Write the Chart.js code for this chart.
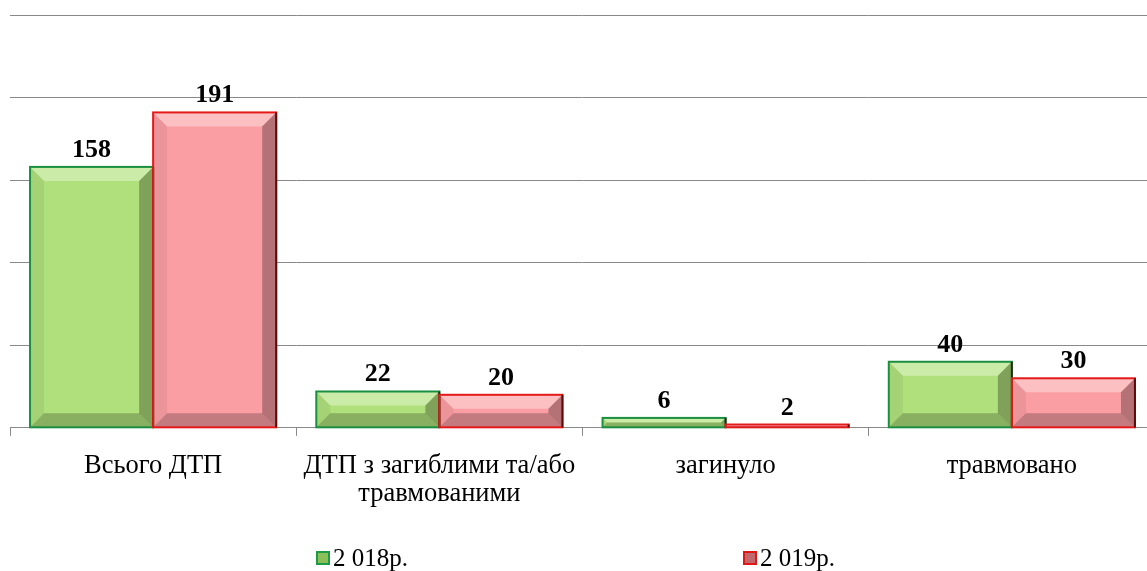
<!DOCTYPE html>
<html>
<head>
<meta charset="utf-8">
<script src="https://cdn.jsdelivr.net/npm/chart.js@4"></script>
<style>
  body { margin: 0; overflow: hidden; background: #fff; }
  #wrap { position: relative; width: 1147px; height: 571px; overflow: hidden; }
  #legend { position: absolute; top: 544px; left: 0; width: 1147px; height: 28px; font: 25px 'Liberation Serif', 'Times New Roman', serif; color: #000; }
  .item { position: absolute; top: 0; white-space: nowrap; }
  .box { display: inline-block; width: 14px; height: 14px; margin-right: 3px; vertical-align: 1px; box-sizing: border-box; }
</style>
</head>
<body>
<div id="wrap">
  <canvas id="chart" width="1155" height="571"></canvas>
  <div id="legend">
    <span class="item" style="left:316px"><span class="box" style="background:#8bbf5a;border:2px solid #1f9a45"></span>2 018р.</span>
    <span class="item" style="left:743px"><span class="box" style="background:#c2676c;border:2px solid #e01818"></span>2 019р.</span>
  </div>
</div>
<script>
var categories = ['Всього ДТП', ['ДТП з загиблими та/або', 'травмованими'], 'загинуло', 'травмовано'];
var seriesNames = ['2 018р.', '2 019р.'];
var values2018 = [158, 22, 6, 40];
var values2019 = [191, 20, 2, 30];

// bevel + value labels, drawn on top of the library's bar elements
var bevelPlugin = {
  id: 'bevel',
  afterDatasetsDraw: function(chart) {
    var ctx = chart.ctx;
    chart.data.datasets.forEach(function(ds, i) {
      var meta = chart.getDatasetMeta(i);
      meta.data.forEach(function(bar, j) {
        var L = bar.x - bar.width / 2, R = bar.x + bar.width / 2;
        var T = bar.y, B = bar.base;
        var d = Math.min(14, (B - T) / 2, bar.width / 2);
        ctx.save();
        function poly(pts, color) {
          ctx.beginPath();
          ctx.moveTo(pts[0][0], pts[0][1]);
          for (var k = 1; k < pts.length; k++) ctx.lineTo(pts[k][0], pts[k][1]);
          ctx.closePath();
          ctx.fillStyle = color;
          ctx.fill();
        }
        poly([[L, T], [R, T], [R - d, T + d], [L + d, T + d]], 'rgba(255,255,255,0.35)');
        poly([[L, B], [R, B], [R - d, B - d], [L + d, B - d]], 'rgba(0,0,0,0.22)');
        poly([[R, T], [R, B], [R - d, B - d], [R - d, T + d]], 'rgba(0,0,0,0.28)');
        poly([[L, T], [L, B], [L + d, B - d], [L + d, T + d]], 'rgba(0,0,0,0.06)');
        ctx.strokeStyle = ds.borderColor;
        ctx.lineWidth = 2;
        ctx.strokeRect(L, T, R - L, B - T);
        ctx.beginPath();
        ctx.moveTo(R, T);
        ctx.lineTo(R, B);
        ctx.strokeStyle = 'rgba(40,0,0,0.7)';
        ctx.stroke();

        ctx.fillStyle = '#000';
        ctx.font = 'bold 26px "Liberation Serif", "Times New Roman", serif';
        ctx.textAlign = 'center';
        ctx.textBaseline = 'alphabetic';
        ctx.fillText(String(ds.data[j]), bar.x, T - 10);
        ctx.restore();
      });
    });
  }
};

new Chart(document.getElementById('chart'), {
  type: 'bar',
  data: {
    labels: categories,
    datasets: [
      {
        label: seriesNames[0],
        data: values2018,
        backgroundColor: '#b0e07c',
        borderColor: '#1a8f40',
        borderWidth: 0
      },
      {
        label: seriesNames[1],
        data: values2019,
        backgroundColor: '#fa9ea4',
        borderColor: '#e41a1a',
        borderWidth: 0
      }
    ]
  },
  options: {
    responsive: false,
    animation: false,
    layout: { padding: { left: 10, top: 15, right: 0, bottom: 47 } },
    plugins: {
      legend: { display: false },
      tooltip: { enabled: false }
    },
    datasets: {
      bar: { categoryPercentage: 0.86, barPercentage: 1 }
    },
    scales: {
      x: {
        grid: { drawOnChartArea: false, drawTicks: true, tickLength: 8, color: '#898989' },
        border: { color: '#898989' },
        ticks: {
          color: '#000',
          padding: 16,
          maxRotation: 0,
          autoSkip: false,
          font: { family: "'Liberation Serif', 'Times New Roman', serif", size: 26.5, lineHeight: 1.06 }
        }
      },
      y: {
        min: 0,
        max: 250,
        ticks: { display: false, stepSize: 50 },
        border: { display: false },
        grid: { color: '#898989', drawTicks: false }
      }
    }
  },
  plugins: [bevelPlugin]
});
</script>
</body>
</html>
